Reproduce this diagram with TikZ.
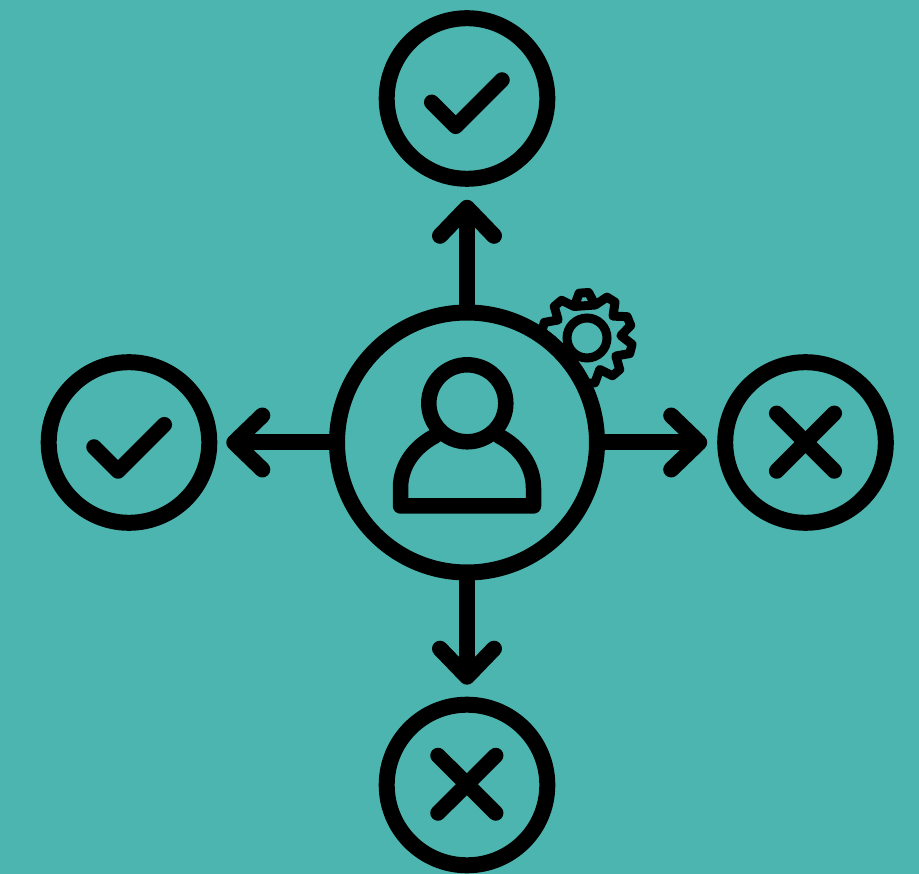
\documentclass[tikz,border=0pt]{standalone}
\usetikzlibrary{arrows.meta}
\definecolor{bgteal}{HTML}{4DB5B0}
\tikzset{
  x=1pt,y=-1pt,
  ink/.style={draw=black,line cap=round,line join=round},
  outcome/.style={circle,draw=black,fill=bgteal,line width=16pt,minimum size=160.6pt,inner sep=0pt},
  hub/.style={circle,draw=black,fill=bgteal,line width=16pt,minimum size=260pt,inner sep=0pt},
  cog/.style={circle,draw=black,line width=9pt,minimum size=40pt,inner sep=0pt},
  flow/.style={ink,line width=16pt,-{Straight Barb[round,length=28pt,width=54pt]}},
  glyph/.style={ink,line width=15.5pt},
}
\begin{document}
\begin{tikzpicture}
\useasboundingbox (0,0) rectangle (919,874);
\fill[bgteal] (0,0) rectangle (919,874);
% gear, partly hidden by the hub
\node[cog] (gear) at (587,338) {};
\begin{scope}[shift={(587,338)}]
\draw[ink,line width=9pt] (-76:34)
  \foreach \a in {-94,-58,-22,14,50,86,122,158,194,230}{
    -- (\a-18:34) -- (\a-6:45.5) -- (\a+6:45.5) -- (\a+18:34)
  } -- cycle;
\end{scope}
% nodes
\node[hub] (hubnode) at (467,442.5) {};
\node[outcome] (top) at (467,98.5) {};
\node[outcome] (left) at (129,442.5) {};
\node[outcome] (right) at (805.5,442.5) {};
\node[outcome] (bottom) at (467,785) {};
% connectors
\draw[flow,shorten >=13pt] (hubnode.north) -- (top.south);
\draw[flow,shorten >=9pt] (hubnode.west) -- (left.east);
\draw[flow,shorten >=10pt] (hubnode.east) -- (right.west);
\draw[flow,shorten >=12pt] (hubnode.south) -- (bottom.north);
% checks
\draw[glyph] (431.7,102.3) -- (455.7,126.3) -- (502,80);
\draw[glyph] (94,447) -- (118,471) -- (164.3,424.7);
% crosses
\draw[glyph] (776.7,413.3) -- (834.3,471);
\draw[glyph] (834.3,413.3) -- (776.7,471);
\draw[glyph] (438,755.5) -- (495.7,813);
\draw[glyph] (495.7,755.5) -- (438,813);
% person
\draw[draw=black,line width=15.5pt] (467.3,403.3) circle (38.5);
\draw[ink,line width=15.5pt] (435,436) .. controls (414,447) and (400.5,466) .. (400.5,488)
  -- (400.5,506) -- (533.5,506) -- (533.5,488)
  .. controls (533.5,466) and (520,447) .. (499,436);
\end{tikzpicture}
\end{document}
